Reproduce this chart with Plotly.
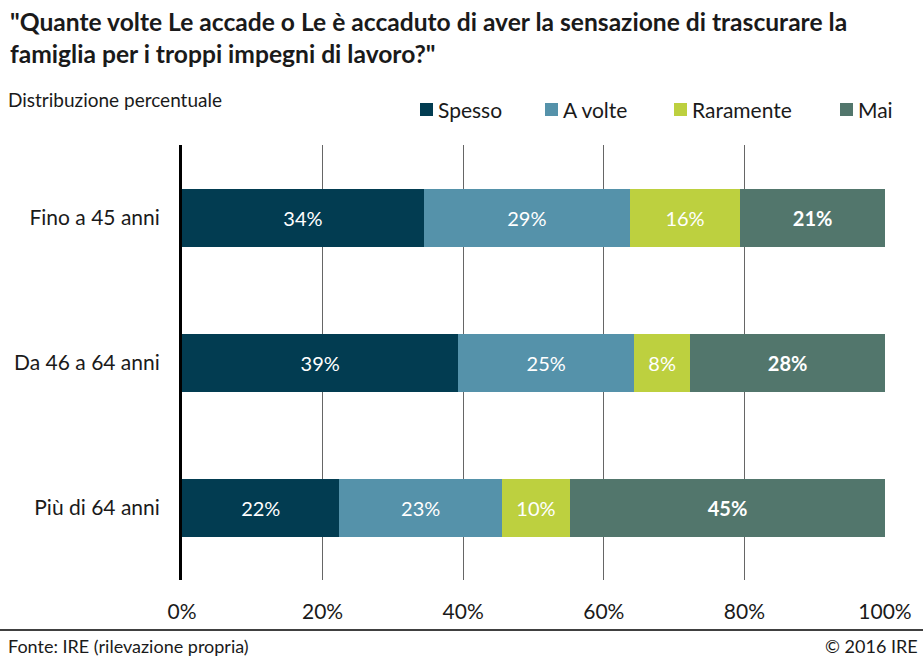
import plotly.graph_objects as go

categories = ["Fino a 45 anni", "Da 46 a 64 anni", "Più di 64 anni"]
series_names = ["Spesso", "A volte", "Raramente", "Mai"]
spesso = [34.4, 39.3, 22.4]
a_volte = [29.3, 25.0, 23.1]
raramente = [15.7, 8.0, 9.7]
mai = [20.6, 27.7, 44.8]
tick_vals = [0, 20, 40, 60, 80, 100]
tick_text = ["0%", "20%", "40%", "60%", "80%", "100%"]

colors = ["#023c51", "#5592aa", "#bdd03f", "#52766c"]
W, H = 923, 656
L, R, T, B = 182, 38, 145, 76
pw, ph = W - L - R, H - T - B

def px_x(x):
    return (x - L) / pw

def px_y(y):
    return (H - B - y) / ph

FONT = "Lato"
TXT = "#1a1a1a"
fig = go.Figure()
for name, vals, col in zip(series_names, [spesso, a_volte, raramente, mai], colors):
    tmpl = "<b>%{x:.0f}%</b>" if name == "Mai" else "%{x:.0f}%"
    fig.add_trace(go.Bar(
        y=categories, x=vals, name=name, orientation="h",
        marker=dict(color=col, line=dict(width=0)),
        texttemplate=tmpl, textposition="inside", insidetextanchor="middle",
        textfont=dict(color="white", size=20, family=FONT),
        hoverinfo="skip", showlegend=False,
    ))

fig.update_layout(
    width=W, height=H, barmode="stack", bargap=0.6,
    margin=dict(l=L, r=R, t=T, b=B),
    paper_bgcolor="white", plot_bgcolor="white",
    font=dict(family=FONT, color=TXT),
    showlegend=False,
    xaxis=dict(range=[0, 100], tickvals=tick_vals, ticktext=tick_text,
               showgrid=True, gridcolor="#666666", gridwidth=1, zeroline=False,
               showline=False, tickfont=dict(size=21, family=FONT, color=TXT),
               ticks="outside", ticklen=13, tickcolor="rgba(0,0,0,0)", fixedrange=True),
    yaxis=dict(autorange="reversed", showline=True, linecolor="black", linewidth=3,
               ticks="outside", ticklen=15, tickcolor="rgba(0,0,0,0)",
               tickfont=dict(size=21, family=FONT, color=TXT), fixedrange=True),
)

# legend (squares + labels)
legend_sq_x = [420, 545, 674, 840]
for name, col, sx in zip(series_names, colors, legend_sq_x):
    fig.add_shape(type="rect", xref="paper", yref="paper",
                  x0=px_x(sx), x1=px_x(sx + 13), y0=px_y(116), y1=px_y(103),
                  fillcolor=col, line=dict(width=0))
    fig.add_annotation(xref="paper", yref="paper", x=px_x(sx + 16), y=px_y(109.5),
                       xanchor="left", yanchor="middle", text=name, showarrow=False,
                       font=dict(size=21, family=FONT, color=TXT))

fig.add_annotation(xref="paper", yref="paper", x=px_x(8), y=px_y(5), xanchor="left", yanchor="top",
                   text="<b>\"Quante volte Le accade o Le è accaduto di aver la sensazione di trascurare la<br>famiglia per i troppi impegni di lavoro?\"</b>",
                   showarrow=False, align="left", font=dict(size=24.6, family=FONT, color=TXT))
fig.add_annotation(xref="paper", yref="paper", x=px_x(6), y=px_y(86), xanchor="left", yanchor="top",
                   text="Distribuzione percentuale", showarrow=False,
                   font=dict(size=19, family=FONT, color=TXT))
fig.add_annotation(xref="paper", yref="paper", x=px_x(6), y=px_y(633), xanchor="left", yanchor="top",
                   text="Fonte: IRE (rilevazione propria)", showarrow=False,
                   font=dict(size=18, family=FONT, color=TXT))
fig.add_annotation(xref="paper", yref="paper", x=px_x(920), y=px_y(633), xanchor="right", yanchor="top",
                   text="© 2016 IRE", showarrow=False,
                   font=dict(size=18, family=FONT, color=TXT))
fig.add_shape(type="line", xref="paper", yref="paper", x0=px_x(0), x1=px_x(W), y0=px_y(630), y1=px_y(630),
              line=dict(color="black", width=1.5))

fig.write_html("out.html", config={"displayModeBar": False},
               post_script="document.body.style.margin='0';")
